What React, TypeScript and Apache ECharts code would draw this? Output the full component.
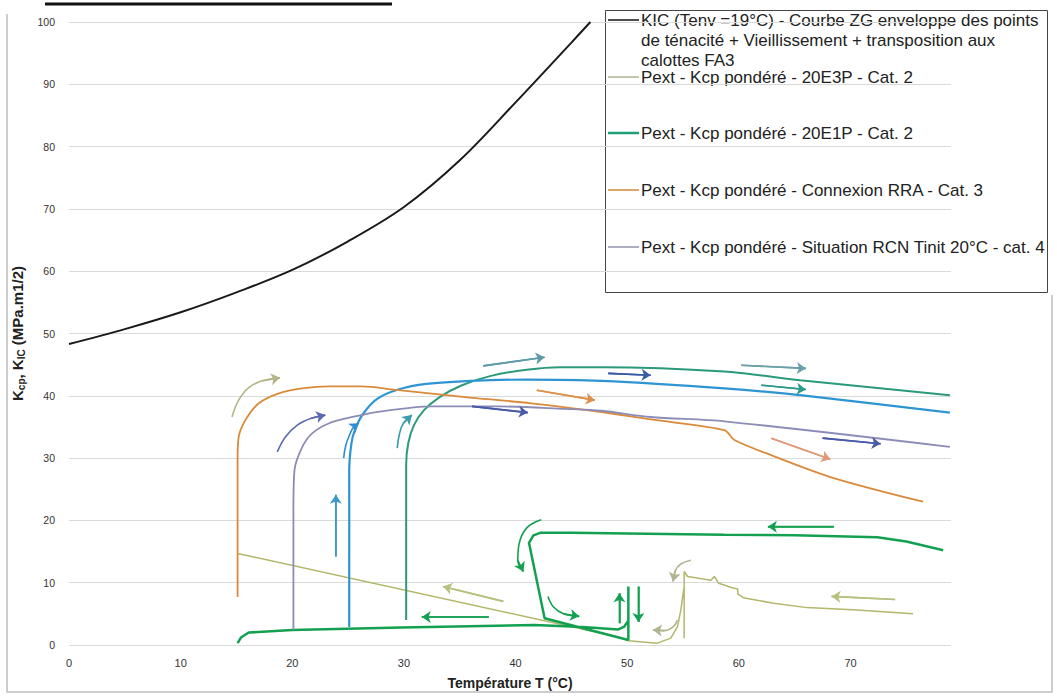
import React, { useEffect, useRef } from "react";
import * as echarts from "echarts";

const FONT = "Liberation Sans, Arial, sans-serif";

const seriesNames = [
  "KIC (Tenv =19°C) - Courbe ZG enveloppe des points de ténacité + Vieillissement + transposition aux calottes FA3",
  "Pext - Kcp pondéré - 20E3P - Cat. 2",
  "Pext - Kcp pondéré - 20E1P - Cat. 2",
  "Pext - Kcp pondéré - Connexion RRA - Cat. 3",
  "Pext - Kcp pondéré - Situation RCN Tinit 20°C - cat. 4",
];
const legendLabels = [
  "KIC (Tenv =19°C) - Courbe ZG enveloppe des points\nde ténacité + Vieillissement + transposition aux\ncalottes FA3",
  "Pext - Kcp pondéré - 20E3P - Cat. 2",
  "Pext - Kcp pondéré - 20E1P - Cat. 2",
  "Pext - Kcp pondéré - Connexion RRA - Cat. 3",
  "Pext - Kcp pondéré - Situation RCN Tinit 20°C - cat. 4",
];
const legendColors = ["#222222", "#b4b79c", "#1f9e78", "#d89048", "#9a9ab4"];

// KIC envelope curve [T, K]
const kicCurve = [
  [0, 48.3], [5, 50.7], [10, 53.4], [15, 56.6], [20, 60.2], [25, 64.8], [30, 70.3],
  [35, 77.8], [40, 87.1], [45, 96.7], [46.7, 100],
];

// 20E3P path
const e3pPath = [
  [75.6, 5.0], [70.6, 5.6], [66.1, 6.0], [63.1, 6.7], [60.4, 7.6], [59.9, 8.2], [59.9, 9.0],
  [59.4, 9.2], [58.2, 9.9], [57.8, 11.0], [57.5, 10.4], [55.4, 11.0], [55.1, 11.8], [55.1, 1.1],
  [55.1, 9.4], [54.8, 5.6], [54.5, 2.9], [53.9, 1.1], [52.7, 0.3], [50.1, 0.7], [49.2, 1.3], [15.1, 14.7],
];

// 20E1P lower loop path
const e1pLoop = [
  [78.3, 15.2], [75, 16.6], [72.4, 17.3], [65, 17.6], [58.7, 17.7], [50, 17.9], [45, 18.0],
  [42.2, 18.0], [41.6, 17.6], [41.2, 16.4], [42.6, 4.3], [50.1, 0.8], [50.1, 9.4], [50.1, 3.9],
  [49.7, 2.9], [49.2, 2.5], [46, 2.9], [41.7, 3.2], [29.8, 2.8], [20, 2.4], [16.1, 2.0], [15.4, 1.2], [15.1, 0.3],
];

// 20E1P upper branch
const e1pUpper = [
  [30.2, 4.0], [30.2, 29], [30.4, 32.5], [30.9, 35.3], [31.8, 37.7], [33.2, 39.8], [35.2, 41.7],
  [37.8, 43.2], [41, 44.2], [44, 44.6], [47.7, 44.6], [58.7, 43.9], [65.5, 42.5], [78.9, 40.1],
];

// unlabelled blue branch
const bluePath = [
  [25.1, 2.9], [25.1, 28], [25.3, 32.4], [25.6, 34.5], [26.3, 37.0], [27.6, 39.5], [29.5, 41.0],
  [32, 41.9], [36, 42.4], [41, 42.6], [47.7, 42.4], [58.7, 41.2], [65.5, 40.1], [78.9, 37.3],
];

// Connexion RRA
const rraPath = [
  [15.1, 7.7], [15.1, 29.7], [15.2, 33.4], [15.8, 36.1], [17, 38.8], [18.8, 40.4], [20.9, 41.2],
  [23.3, 41.5], [26.2, 41.5], [29.5, 40.9], [35.5, 39.8], [41.4, 38.8], [47.7, 37.4], [52.1, 36.2],
  [58.7, 34.5], [59.6, 32.9], [63, 30.4], [68.5, 26.8], [76.5, 23.0],
];

// Situation RCN
const rcnPath = [
  [20.1, 2.4], [20.1, 21.7], [20.2, 28.1], [20.9, 31.8], [21.8, 34.0], [23.3, 35.6], [25.4, 36.6],
  [28, 37.5], [32.5, 38.3], [38.5, 38.3], [44.4, 37.9], [47.7, 37.6], [52.1, 36.6], [58.7, 35.9], [78.9, 31.8],
];

// annotation arrows: points along the arrow (last point = head), colour
const arrows = [
  { pts: [[14.6, 36.6], [15.2, 39.3], [16.1, 41.3], [17.3, 42.4], [18.9, 42.9]], color: "#b3b58a" },
  { pts: [[18.66, 31.0], [19.38, 33.4], [20.45, 35.3], [21.7, 36.4], [22.95, 36.9]], color: "#5a6ab0" },
  { pts: [[24.6, 30.0], [24.8, 32.1], [25.2, 34.0], [25.5, 35.0], [25.95, 35.6]], color: "#2e8fd0" },
  { pts: [[23.9, 14.2], [23.9, 24.1]], color: "#3a9ac8" },
  { pts: [[29.4, 31.6], [29.6, 33.9], [29.95, 35.6], [30.7, 36.9]], color: "#3a9ab0" },
  { pts: [[37.1, 44.8], [42.6, 46.2]], color: "#5f9aa8" },
  { pts: [[48.3, 43.6], [52.1, 43.3]], color: "#3a5aa8" },
  { pts: [[41.9, 40.9], [47.1, 39.3]], color: "#e0904a" },
  { pts: [[36.1, 38.3], [41.1, 37.3]], color: "#4a5aa8" },
  { pts: [[60.2, 44.9], [66.0, 44.4]], color: "#6aa0a8" },
  { pts: [[62.0, 41.7], [66.0, 41.0]], color: "#2a9a8a" },
  { pts: [[62.9, 33.2], [68.2, 29.8]], color: "#e09a7a" },
  { pts: [[67.5, 33.2], [72.7, 32.3]], color: "#4a5aa8" },
  { pts: [[68.5, 19.0], [62.6, 19.0]], color: "#14a050" },
  { pts: [[42.3, 20.1], [41.0, 18.8], [40.3, 16.1], [40.2, 13.6], [40.7, 11.8]], color: "#14a050" },
  { pts: [[42.9, 7.8], [43.4, 6.1], [44.3, 5.0], [45.7, 4.6]], color: "#14a050" },
  { pts: [[49.3, 3.5], [49.3, 8.3]], color: "#14a050" },
  { pts: [[51.0, 9.4], [51.0, 3.7]], color: "#14a050" },
  { pts: [[55.7, 13.6], [54.8, 13.0], [54.3, 11.9], [54.1, 10.2]], color: "#b0b490" },
  { pts: [[54.5, 4.0], [54.1, 2.9], [53.3, 2.3], [52.3, 2.4]], color: "#b0b490" },
  { pts: [[37.6, 4.5], [31.6, 4.5]], color: "#14a050" },
  { pts: [[38.9, 7.0], [33.5, 9.4]], color: "#b8c080" },
  { pts: [[74.0, 7.3], [68.3, 7.8]], color: "#b8c080" },
];

function lineSeries(name: string, data: number[][], color: string, width: number, smooth: number | boolean) {
  return {
    type: "line",
    name,
    data,
    showSymbol: false,
    symbol: "none",
    smooth,
    lineStyle: { color, width },
    itemStyle: { color },
    z: 3,
  };
}

function buildLegend() {
  const ys = [20, 77, 133, 190, 247];
  const children: any[] = [
    {
      type: "rect",
      shape: { x: 605.5, y: 10.5, width: 442, height: 282 },
      style: { fill: "#fff", stroke: "#444", lineWidth: 1 },
    },
  ];
  legendLabels.forEach((label, i) => {
    children.push({
      type: "line",
      shape: { x1: 608, y1: ys[i], x2: 639, y2: ys[i] },
      style: { stroke: legendColors[i], lineWidth: i === 2 ? 2.5 : 1.6 },
    });
    children.push({
      type: "text",
      x: 641,
      y: i === 0 ? 10 : ys[i],
      style: {
        text: label,
        fill: "#222",
        font: `17px ${FONT}`,
        lineHeight: 20,
        verticalAlign: i === 0 ? "top" : "middle",
        align: "left",
      },
    });
  });
  return { type: "group", children, z: 10 };
}

export default function App() {
  const ref = useRef<HTMLDivElement>(null);
  useEffect(() => {
    const chart = echarts.init(ref.current!, null, { renderer: "svg" });
    const arrowBodies = arrows.map((a, i) => ({
      type: "line",
      name: "arrow" + i,
      data: a.pts,
      showSymbol: false,
      symbol: "none",
      smooth: a.pts.length > 2 ? 0.4 : false,
      silent: true,
      lineStyle: { color: a.color, width: 1.6 },
      z: 4,
    }));
    const option: any = {
      animation: false,
      backgroundColor: "#ffffff",
      grid: { left: 66, right: 106, top: 22, bottom: 52, containLabel: false },
      xAxis: {
        type: "value",
        min: 0,
        max: 79,
        interval: 10,
        axisLine: { show: false },
        axisTick: { show: false },
        splitLine: { show: false },
        axisLabel: { fontSize: 11, color: "#333", margin: 12, fontFamily: FONT, showMaxLabel: false },
        name: "Température T (°C)",
        nameLocation: "middle",
        nameGap: 31,
        nameTextStyle: { fontSize: 14, fontWeight: "bold", color: "#222", fontFamily: FONT },
      },
      yAxis: {
        type: "value",
        min: 0,
        max: 100,
        interval: 10,
        axisLine: { show: false },
        axisTick: { show: false },
        splitLine: { show: true, lineStyle: { color: "#dadada", width: 1 } },
        axisLabel: { fontSize: 10.5, color: "#333", margin: 14, fontFamily: FONT },
        name: "{a|K}{b|cp}{a|, K}{b|IC}{a| (MPa.m1/2)}",
        nameLocation: "middle",
        nameGap: 42,
        nameTextStyle: {
          color: "#222",
          rich: {
            a: { fontSize: 15, fontWeight: "bold", fontFamily: FONT, color: "#222", lineHeight: 20 },
            b: { fontSize: 10, fontWeight: "bold", fontFamily: FONT, color: "#222", padding: [8, 0, 0, 0], lineHeight: 20 },
          },
        },
      },
      series: [
        lineSeries(seriesNames[0], kicCurve, "#1a1a1a", 2, 0.35),
        lineSeries(seriesNames[1], e3pPath, "#b3b76a", 1.5, false),
        lineSeries(seriesNames[2], e1pLoop, "#14a050", 2.5, false),
        lineSeries(seriesNames[2], e1pUpper, "#2a9a7a", 2, 0.3),
        lineSeries("Kcp", bluePath, "#2e95d3", 2.2, 0.3),
        lineSeries(seriesNames[3], rraPath, "#d98a3a", 1.8, 0.3),
        lineSeries(seriesNames[4], rcnPath, "#8c8cb8", 1.8, 0.3),
        ...arrowBodies,
        {
          type: "line",
          name: "arrowheads",
          data: [],
          z: 5,
          markLine: {
            silent: true,
            animation: false,
            symbol: ["none", "arrow"],
            symbolSize: 9,
            label: { show: false },
            emphasis: { disabled: true },
            data: arrows.map((a) => {
              const n = a.pts.length;
              const st = { color: a.color, width: 1.6, type: "solid" };
              return [
                { coord: a.pts[n - 2], lineStyle: st },
                { coord: a.pts[n - 1], lineStyle: st },
              ];
            }),
          },
        },
      ],
      graphic: [
        {
          type: "line",
          shape: { x1: 45, y1: 4, x2: 392, y2: 4 },
          style: { stroke: "#111", lineWidth: 3 },
        },
        {
          type: "polyline",
          shape: { points: [[7, 14], [7, 692], [1052, 692], [1052, 295]] },
          style: { stroke: "#bdbdbd", lineWidth: 1.5, fill: "none" },
        },
        buildLegend(),
      ],
    };
    chart.setOption(option);
    return () => chart.dispose();
  }, []);
  return (
    <div
      ref={ref}
      style={{ position: "fixed", left: 0, top: 0, width: 1057, height: 697, background: "#fff" }}
    />
  );
}
